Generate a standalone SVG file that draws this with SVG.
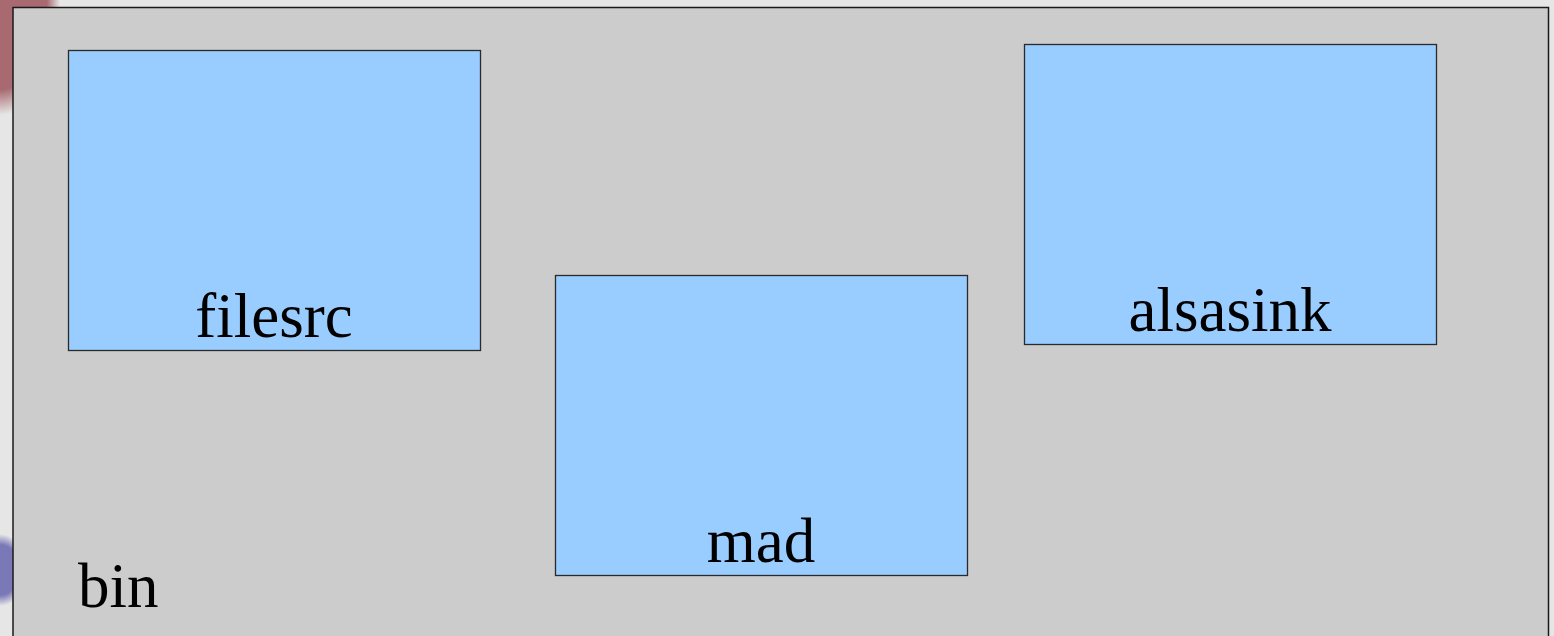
<svg xmlns="http://www.w3.org/2000/svg" width="1554" height="636" viewBox="0 0 1554 636">
<defs>
<style>
.el{fill:#99ccff;stroke:#2a2a2a;stroke-width:1.3}
.lbl{font-family:"Liberation Serif","Times New Roman",serif;font-size:63px;fill:#000;text-anchor:middle}
</style>
<radialGradient id="red" cx="0" cy="0" r="1" gradientUnits="userSpaceOnUse" gradientTransform="translate(0 0) scale(60 115)">
<stop offset="0" stop-color="#a86a70"/><stop offset="0.78" stop-color="#a86a70"/><stop offset="1" stop-color="#a86a70" stop-opacity="0"/>
</radialGradient>
<radialGradient id="blue" cx="0" cy="0" r="1" gradientUnits="userSpaceOnUse" gradientTransform="translate(0 570) scale(28 36)">
<stop offset="0" stop-color="#7b78b8"/><stop offset="0.7" stop-color="#7b78b8"/><stop offset="1" stop-color="#7b78b8" stop-opacity="0"/>
</radialGradient>
</defs>
<rect width="1554" height="636" fill="#e6e6e6"/>
<rect x="0" y="0" width="80" height="130" fill="url(#red)"/>
<rect x="0" y="500" width="40" height="136" fill="url(#blue)"/>
<g id="bin">
<rect x="13" y="7.5" width="1535.5" height="640" fill="#cccccc" stroke="#1a1a1a" stroke-width="1.5"/>
<text x="78" y="607" class="lbl" style="text-anchor:start">bin</text>
</g>
<g id="filesrc">
<rect class="el" x="68.5" y="50.5" width="412" height="300"/>
<text class="lbl" x="274" y="337">filesrc</text>
</g>
<g id="mad">
<rect class="el" x="555.5" y="275.5" width="412" height="300"/>
<text class="lbl" x="761" y="562">mad</text>
</g>
<g id="alsasink">
<rect class="el" x="1024.5" y="44.5" width="412" height="300"/>
<text class="lbl" x="1230" y="331">alsasink</text>
</g>
<g id="connectors"/>
</svg>
